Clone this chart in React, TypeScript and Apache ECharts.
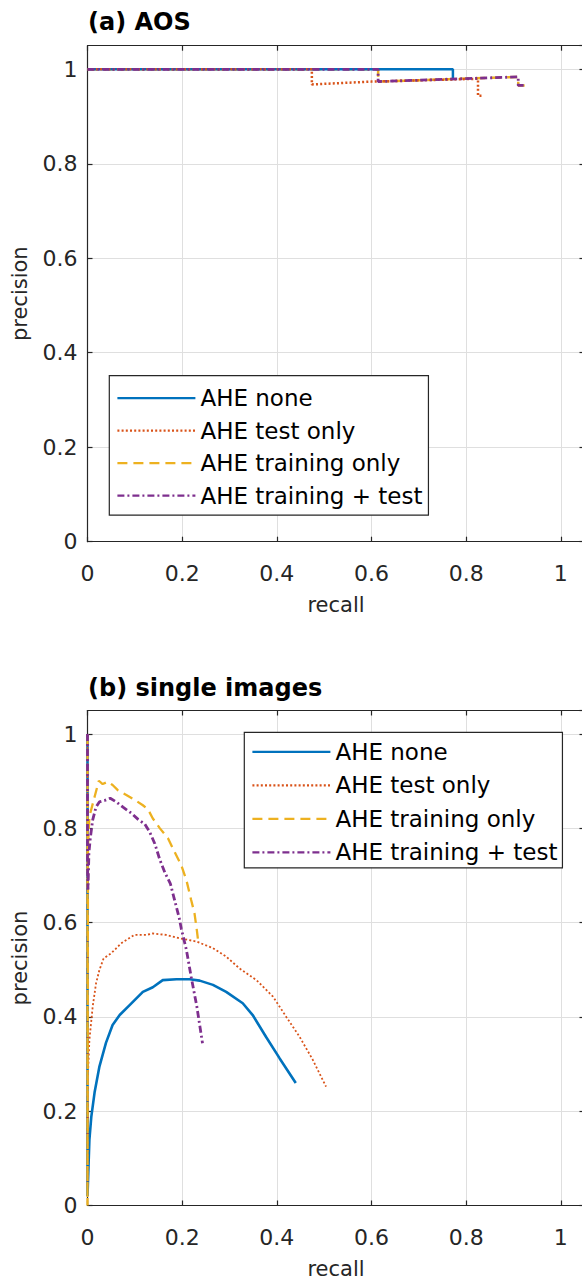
import React, { useEffect, useRef } from "react";
import * as echarts from "echarts";

// ---------- data ----------
const seriesNames = ["AHE none", "AHE test only", "AHE training only", "AHE training + test"];
const seriesColors = ["#0072BD", "#D95319", "#EDB120", "#7E2F8E"];
const xTicks = [0, 0.2, 0.4, 0.6, 0.8, 1];

// (a) AOS
const aosNoneRecall = [0, 0.772, 0.772];
const aosNonePrecision = [1, 1, 0.979];
const aosTestRecall = [0, 0.474, 0.474, 0.6, 0.825, 0.825, 0.837];
const aosTestPrecision = [1, 1, 0.968, 0.974, 0.98, 0.944, 0.944];
const aosTrainRecall = [0, 0.614, 0.614, 0.91, 0.91, 0.926];
const aosTrainPrecision = [1, 1, 0.974, 0.984, 0.966, 0.966];
const aosBothRecall = [0, 0.614, 0.614, 0.91, 0.91, 0.926];
const aosBothPrecision = [1, 1, 0.974, 0.984, 0.966, 0.966];

// (b) single images
const sglNoneRecall = [0, 0, 0.001, 0.004, 0.008, 0.015, 0.025, 0.039, 0.053, 0.068, 0.089, 0.117, 0.138, 0.159, 0.188, 0.216, 0.237, 0.265, 0.293, 0.328, 0.349, 0.377, 0.406, 0.44];
const sglNonePrecision = [1, 0.02, 0.05, 0.139, 0.188, 0.24, 0.294, 0.345, 0.383, 0.404, 0.425, 0.453, 0.463, 0.478, 0.48, 0.48, 0.477, 0.468, 0.453, 0.429, 0.404, 0.358, 0.312, 0.26];
const sglTestRecall = [0, 0, 0.001, 0.004, 0.011, 0.018, 0.025, 0.034, 0.05, 0.071, 0.099, 0.124, 0.138, 0.166, 0.194, 0.23, 0.265, 0.293, 0.321, 0.357, 0.392, 0.42, 0.448, 0.476, 0.504];
const sglTestPrecision = [1, 0.04, 0.28, 0.351, 0.422, 0.471, 0.499, 0.524, 0.535, 0.556, 0.574, 0.574, 0.577, 0.574, 0.567, 0.56, 0.546, 0.528, 0.503, 0.478, 0.443, 0.4, 0.358, 0.309, 0.252];
const sglTrainRecall = [0, 0, 0.001, 0.004, 0.015, 0.024, 0.032, 0.043, 0.053, 0.064, 0.082, 0.099, 0.117, 0.128, 0.138, 0.153, 0.17, 0.184, 0.198, 0.209, 0.219, 0.226, 0.231, 0.234];
const sglTrainPrecision = [1, 0, 0.76, 0.825, 0.867, 0.901, 0.894, 0.899, 0.892, 0.881, 0.871, 0.861, 0.849, 0.84, 0.821, 0.8, 0.779, 0.75, 0.722, 0.69, 0.648, 0.62, 0.584, 0.559];
const sglBothRecall = [0, 0, 0.001, 0.003, 0.006, 0.011, 0.018, 0.025, 0.036, 0.048, 0.061, 0.075, 0.093, 0.107, 0.121, 0.131, 0.142, 0.153, 0.164, 0.175, 0.185, 0.194, 0.198, 0.209, 0.219, 0.231, 0.243];
const sglBothPrecision = [1, 0.72, 0.67, 0.748, 0.78, 0.818, 0.845, 0.856, 0.859, 0.864, 0.856, 0.845, 0.832, 0.819, 0.809, 0.793, 0.768, 0.733, 0.705, 0.683, 0.644, 0.609, 0.588, 0.542, 0.485, 0.422, 0.344];

// ---------- helpers ----------
const FONT = "'DejaVu Sans', sans-serif";
const AX = "#262626";
const GRID = "#dfdfdf";
const zip = (xs: number[], ys: number[]) => xs.map((x, i) => [x, ys[i]]);

const dashTypes: any[] = ["solid", [2, 2.2], [10, 6], [7, 3, 2, 3]];

function makeSeries(groups: number[][][], xi: number, yi: number, widths: number[], zs: number[]) {
  return groups.map((data, i) => ({
    type: "line",
    name: seriesNames[i],
    xAxisIndex: xi,
    yAxisIndex: yi,
    data,
    symbol: "none",
    showSymbol: false,
    silent: true,
    color: seriesColors[i],
    lineStyle: { color: seriesColors[i], width: widths[i], type: dashTypes[i], cap: "butt" },
    itemStyle: { color: seriesColors[i] },
    z: zs[i],
  }));
}

function bottomX(gridIndex: number) {
  return {
    type: "value",
    gridIndex,
    position: "bottom",
    min: 0,
    max: 1.05,
    interval: 0.2,
    name: "recall",
    nameLocation: "middle",
    nameGap: 53,
    nameTextStyle: { fontFamily: FONT, fontSize: 21, color: AX },
    axisLine: { show: true, onZero: false, lineStyle: { color: AX, width: 1.2 } },
    axisTick: { show: true, inside: true, length: 5, lineStyle: { color: AX, width: 1.2 } },
    axisLabel: { show: true, margin: 21, showMaxLabel: false, fontFamily: FONT, fontSize: 22, color: AX },
    splitLine: { show: true, lineStyle: { color: GRID, width: 1 } },
  };
}
function topX(gridIndex: number) {
  return {
    type: "value",
    gridIndex,
    position: "top",
    min: 0,
    max: 1.05,
    interval: 0.2,
    axisLine: { show: true, onZero: false, lineStyle: { color: AX, width: 1.2 } },
    axisTick: { show: true, inside: true, length: 5, lineStyle: { color: AX, width: 1.2 } },
    axisLabel: { show: false },
    splitLine: { show: false },
  };
}
function leftY(gridIndex: number) {
  return {
    type: "value",
    gridIndex,
    position: "left",
    min: 0,
    max: 1.05,
    interval: 0.2,
    name: "precision",
    nameLocation: "middle",
    nameRotate: 90,
    nameGap: 57,
    nameTextStyle: { fontFamily: FONT, fontSize: 21, color: AX },
    axisLine: { show: true, onZero: false, lineStyle: { color: AX, width: 1.2 } },
    axisTick: { show: true, inside: true, length: 5, lineStyle: { color: AX, width: 1.2 } },
    axisLabel: { show: true, margin: 10, showMaxLabel: false, fontFamily: FONT, fontSize: 22, color: AX },
    splitLine: { show: true, lineStyle: { color: GRID, width: 1 } },
  };
}
function rightY(gridIndex: number) {
  return {
    type: "value",
    gridIndex,
    position: "right",
    min: 0,
    max: 1.05,
    interval: 0.2,
    axisLine: { show: true, onZero: false, lineStyle: { color: AX, width: 1.2 } },
    axisTick: { show: true, inside: true, length: 5, lineStyle: { color: AX, width: 1.2 } },
    axisLabel: { show: false },
    splitLine: { show: false },
  };
}

function legendAt(left: number, top: number, padding: number[], gap: number) {
  return {
    show: true,
    orient: "vertical",
    left,
    top,
    padding,
    itemGap: gap,
    itemWidth: 78,
    itemHeight: 24,
    data: seriesNames,
    selectedMode: false,
    backgroundColor: "#ffffff",
    borderColor: AX,
    borderWidth: 1.2,
    borderRadius: 0,
    itemStyle: { color: "rgba(0,0,0,0)", borderColor: "rgba(0,0,0,0)", borderWidth: 0, opacity: 0 },
    lineStyle: { width: 2.2 },
    textStyle: { fontFamily: FONT, fontSize: 23, color: "#000000" },
  };
}

export default function App() {
  const ref = useRef<HTMLDivElement | null>(null);
  useEffect(() => {
    if (!ref.current) return;
    const chart = echarts.init(ref.current, undefined, { renderer: "svg" });
    const aos = [
      zip(aosNoneRecall, aosNonePrecision),
      zip(aosTestRecall, aosTestPrecision),
      zip(aosTrainRecall, aosTrainPrecision),
      zip(aosBothRecall, aosBothPrecision),
    ];
    const sgl = [
      zip(sglNoneRecall, sglNonePrecision),
      zip(sglTestRecall, sglTestPrecision),
      zip(sglTrainRecall, sglTrainPrecision),
      zip(sglBothRecall, sglBothPrecision),
    ];
    const option: any = {
      animation: false,
      backgroundColor: "#ffffff",
      title: [
        { text: "(a) AOS", left: 88, top: 10, padding: 0, textStyle: { fontFamily: FONT, fontSize: 24, fontWeight: "bold", color: "#000" } },
        { text: "(b) single images", left: 88, top: 676, padding: 0, textStyle: { fontFamily: FONT, fontSize: 24, fontWeight: "bold", color: "#000" } },
      ],
      grid: [
        { left: 87.5, top: 45.7, width: 497, height: 496 },
        { left: 87.5, top: 710.5, width: 497, height: 495 },
      ],
      xAxis: [bottomX(0), topX(0), bottomX(1), topX(1)],
      yAxis: [leftY(0), rightY(0), leftY(1), rightY(1)],
      legend: [
        legendAt(109.3, 375.7, [11, 6, 8, 7], 9.5),
        legendAt(244.3, 732.3, [8, 5, 4, 7], 10.5),
      ],
      series: [
        ...makeSeries(aos, 0, 0, [2.5, 2.5, 2.5, 2.8], [4, 5, 2, 6]),
        ...makeSeries(sgl, 2, 2, [2.6, 1.8, 2.3, 2.8], [3, 4, 5, 6]),
      ],
    };
    chart.setOption(option);
    return () => chart.dispose();
  }, []);
  return (
    <div style={{ position: "absolute", left: 0, top: 0, width: 582, height: 1281, overflow: "hidden", background: "#fff" }}>
      <div ref={ref} style={{ width: 600, height: 1281 }} />
    </div>
  );
}
